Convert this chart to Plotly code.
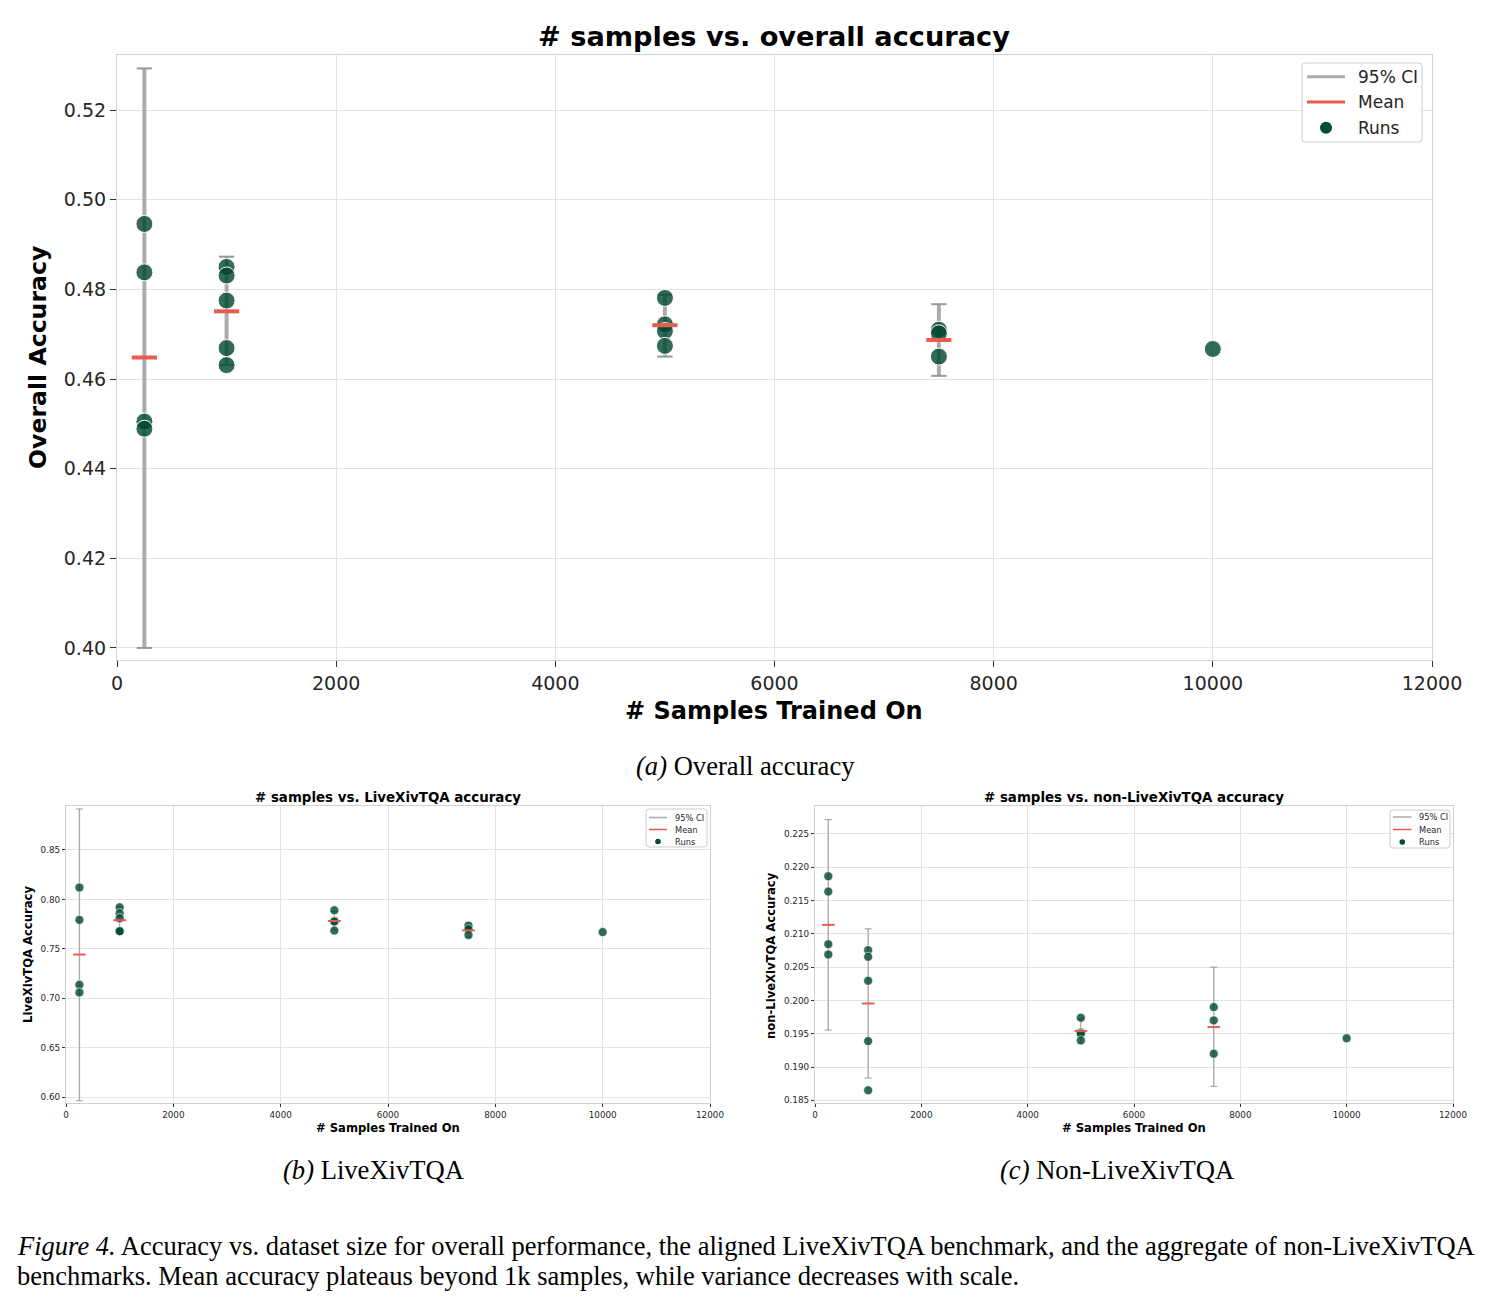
import plotly.graph_objects as go

# ---------------- data ----------------
# (a) overall accuracy
overall_runs_x = [250, 250, 250, 250,
                  1000, 1000, 1000, 1000, 1000,
                  5000, 5000, 5000, 5000,
                  7500, 7500, 7500,
                  10000]
overall_runs_y = [0.4946, 0.4838, 0.4505, 0.4489,
                  0.4850, 0.4831, 0.4775, 0.4669, 0.4631,
                  0.4781, 0.4722, 0.4707, 0.4674,
                  0.4710, 0.4702, 0.4650,
                  0.4667]
overall_mean_x = [250, 1000, 5000, 7500]
overall_mean = [0.4648, 0.4751, 0.4720, 0.4687]
overall_ci_lo = [0.4000, 0.4631, 0.4650, 0.4607]
overall_ci_hi = [0.5293, 0.4873, 0.4788, 0.4767]

# (b) LiveXivTQA accuracy
live_runs_x = [250, 250, 250, 250,
               1000, 1000, 1000, 1000, 1000,
               5000, 5000, 5000, 5000,
               7500, 7500, 7500,
               10000]
live_runs_y = [0.8120, 0.7793, 0.7137, 0.7060,
               0.7920, 0.7860, 0.7810, 0.7679, 0.7679,
               0.7890, 0.7785, 0.7775, 0.7685,
               0.7735, 0.7700, 0.7640,
               0.7670]
live_mean_x = [250, 1000, 5000, 7500]
live_mean = [0.7443, 0.7790, 0.7782, 0.7687]
live_ci_lo = [0.5966, 0.7660, 0.7690, 0.7620]
live_ci_hi = [0.8914, 0.7925, 0.7880, 0.7755]

# (c) non-LiveXivTQA accuracy
non_runs_x = [250, 250, 250, 250,
              1000, 1000, 1000, 1000, 1000,
              5000, 5000, 5000, 5000,
              7500, 7500, 7500,
              10000]
non_runs_y = [0.21865, 0.21635, 0.20845, 0.20690,
              0.20755, 0.20655, 0.20295, 0.19390, 0.18650,
              0.19740, 0.19520, 0.19500, 0.19400,
              0.19900, 0.19700, 0.19200,
              0.19432]
non_mean_x = [250, 1000, 5000, 7500]
non_mean = [0.21135, 0.19955, 0.19540, 0.19600]
non_ci_lo = [0.19555, 0.18835, 0.19350, 0.18710]
non_ci_hi = [0.22715, 0.21075, 0.19720, 0.20500]

x_ticks = [0, 2000, 4000, 6000, 8000, 10000, 12000]
legend_labels = ["95% CI", "Mean", "Runs"]

# ---------------- styling ----------------
W, H = 1492, 1306
FONT = "DejaVu Sans"
SERIF = "Liberation Serif"
RUN_COLOR = "rgba(0,70,50,0.8)"
RUN_SOLID = "#004d35"
MEAN_COLOR = "#e95b4c"
CI_COLOR = "#ababab"
CAP_COLOR = "#999999"
GRID = "#e2e2e2"
FRAME = "#d0d0d0"
TXT = "#262626"

fig = go.Figure()
shapes = []
ann = []


def px_x(p):
    return p / W


def px_y(p):
    return 1 - p / H


def add_panel(ax, rx, ry, mx, mm, lo, hi, s):
    xa, ya = ("x" if ax == 1 else f"x{ax}"), ("y" if ax == 1 else f"y{ax}")
    # CI line (no caps)
    fig.add_trace(go.Scatter(
        x=mx, y=mm, mode="markers", xaxis=xa, yaxis=ya,
        marker=dict(size=1, color="rgba(0,0,0,0)"),
        error_y=dict(type="data", symmetric=False,
                     array=[h - m for h, m in zip(hi, mm)],
                     arrayminus=[m - l for m, l in zip(mm, lo)],
                     color=CI_COLOR, thickness=s["ci_w"], width=0),
        showlegend=False, hoverinfo="skip"))
    # caps
    fig.add_trace(go.Scatter(
        x=mx + mx, y=lo + hi, mode="markers", xaxis=xa, yaxis=ya,
        marker=dict(symbol="line-ew", size=s["cap"],
                    line=dict(color=CAP_COLOR, width=s["cap_w"])),
        showlegend=False, hoverinfo="skip"))
    # runs
    fig.add_trace(go.Scatter(
        x=rx, y=ry, mode="markers", xaxis=xa, yaxis=ya,
        marker=dict(size=s["dot"], color=RUN_COLOR,
                    line=dict(color="white", width=s["edge"])),
        showlegend=False))
    # mean
    fig.add_trace(go.Scatter(
        x=mx, y=mm, mode="markers", xaxis=xa, yaxis=ya,
        marker=dict(symbol="line-ew", size=s["mean_len"],
                    line=dict(color=MEAN_COLOR, width=s["mean_w"])),
        showlegend=False))


def rounded_rect(x0, y0, x1, y1, r):
    X = lambda v: f"{px_x(v):.6f}"
    Y = lambda v: f"{px_y(v):.6f}"
    return (f"M {X(x0 + r)} {Y(y0)} L {X(x1 - r)} {Y(y0)} Q {X(x1)} {Y(y0)} {X(x1)} {Y(y0 + r)} "
            f"L {X(x1)} {Y(y1 - r)} Q {X(x1)} {Y(y1)} {X(x1 - r)} {Y(y1)} "
            f"L {X(x0 + r)} {Y(y1)} Q {X(x0)} {Y(y1)} {X(x0)} {Y(y1 - r)} "
            f"L {X(x0)} {Y(y0 + r)} Q {X(x0)} {Y(y0)} {X(x0 + r)} {Y(y0)} Z")


def add_legend(box, rows, line_x, dot_r, text_x, fs, lw):
    x0, y0, x1, y1 = box
    shapes.append(dict(type="path", xref="paper", yref="paper",
                       path=rounded_rect(x0, y0, x1, y1, 3),
                       fillcolor="rgba(255,255,255,0.85)",
                       line=dict(color="#cccccc", width=1)))
    colors = [CI_COLOR, MEAN_COLOR]
    for i, c in enumerate(colors):
        shapes.append(dict(type="line", xref="paper", yref="paper",
                           x0=px_x(line_x[0]), x1=px_x(line_x[1]),
                           y0=px_y(rows[i]), y1=px_y(rows[i]),
                           line=dict(color=c, width=lw)))
    cx = (line_x[0] + line_x[1]) / 2
    shapes.append(dict(type="circle", xref="paper", yref="paper",
                       x0=px_x(cx - dot_r), x1=px_x(cx + dot_r),
                       y0=px_y(rows[2] - dot_r), y1=px_y(rows[2] + dot_r),
                       fillcolor=RUN_SOLID, line=dict(width=0)))
    for lab, ry in zip(legend_labels, rows):
        ann.append(dict(x=px_x(text_x), y=px_y(ry), xref="paper", yref="paper",
                        text=lab, showarrow=False, xanchor="left", yanchor="middle",
                        font=dict(family=FONT, size=fs, color=TXT)))


big = dict(ci_w=4, cap=11, cap_w=2, dot=17, edge=1, mean_len=18, mean_w=4)
small = dict(ci_w=1.4, cap=5, cap_w=1, dot=9, edge=0.6, mean_len=9, mean_w=2)

add_panel(1, overall_runs_x, overall_runs_y, overall_mean_x, overall_mean,
          overall_ci_lo, overall_ci_hi, big)
add_panel(2, live_runs_x, live_runs_y, live_mean_x, live_mean,
          live_ci_lo, live_ci_hi, small)
add_panel(3, non_runs_x, non_runs_y, non_mean_x, non_mean,
          non_ci_lo, non_ci_hi, small)


def axis_common(tfs, tlen):
    return dict(showline=True, mirror=True, linecolor=FRAME, linewidth=1.2,
                showgrid=True, gridcolor=GRID, gridwidth=1, zeroline=False,
                automargin=False,
                ticks="outside", ticklen=tlen, tickwidth=1.3, tickcolor="#333333",
                tickfont=dict(family=FONT, size=tfs, color=TXT))


# panel geometry in pixels (left, right, top, bottom)
P1 = (117, 1432, 55, 660)
P2 = (66, 710, 806, 1103)
P3 = (815, 1453, 806, 1103)

layout_axes = {}
for i, (P, yr, ydt, yfmt, tfs, tlen) in enumerate([
        (P1, [0.3973, 0.5323], 0.02, ".2f", 19, 6),
        (P2, [0.5943, 0.8944], 0.05, ".2f", 8.8, 3),
        (P3, [0.1846, 0.2292], 0.005, ".3f", 8.8, 3)], start=1):
    xs = "xaxis" if i == 1 else f"xaxis{i}"
    ys = "yaxis" if i == 1 else f"yaxis{i}"
    layout_axes[xs] = dict(domain=[px_x(P[0]), px_x(P[1])], range=[0, 12000],
                           tickvals=x_ticks, tickformat="d",
                           anchor="y" if i == 1 else f"y{i}", **axis_common(tfs, tlen))
    layout_axes[ys] = dict(domain=[px_y(P[3]), px_y(P[2])], range=yr,
                           dtick=ydt, tick0=0, tickformat=yfmt,
                           anchor="x" if i == 1 else f"x{i}", **axis_common(tfs, tlen))

fig.update_layout(**layout_axes)

# legends (drawn manually to match the compact matplotlib boxes)
add_legend((1302, 63, 1422, 142), (76.7, 102, 127.7), (1307, 1345), 6, 1356, 17, 3)
add_legend((646, 809, 707, 847), (817.5, 829.5, 841.5), (649, 667), 2.8, 672.5, 8.3, 1.5)
add_legend((1390, 810, 1450, 848), (817, 829.5, 842), (1393, 1411.5), 2.8, 1416.5, 8.3, 1.5)


def text(xp, yp, s, size, family=FONT, angle=0, xanchor="center", color="black"):
    ann.append(dict(x=px_x(xp), y=px_y(yp), xref="paper", yref="paper", text=s,
                    showarrow=False, xanchor=xanchor, yanchor="middle", textangle=angle,
                    font=dict(family=family, size=size, color=color)))


# titles & axis labels
text(774, 36, "<b># samples vs. overall accuracy</b>", 27.2)
text(774, 711, "<b># Samples Trained On</b>", 24)
text(38, 358, "<b>Overall Accuracy</b>", 23.6, angle=-90)

text(388, 797, "<b># samples vs. LiveXivTQA accuracy</b>", 13.4)
text(388, 1128, "<b># Samples Trained On</b>", 11.6)
text(28, 955, "<b>LiveXivTQA Accuracy</b>", 11.6, angle=-90)

text(1134, 797, "<b># samples vs. non-LiveXivTQA accuracy</b>", 13.4)
text(1134, 1128, "<b># Samples Trained On</b>", 11.6)
text(771, 955, "<b>non-LiveXivTQA Accuracy</b>", 11.6, angle=-90)

# sub-captions and figure caption
text(745, 766, "<i>(a)</i> Overall accuracy", 26.6, family=SERIF)
text(374, 1170, "<i>(b)</i> LiveXivTQA", 26.6, family=SERIF)
text(1117, 1170, "<i>(c)</i> Non-LiveXivTQA", 26.6, family=SERIF)
text(15, 1246, "<i>Figure 4.</i> Accuracy vs. dataset size for overall performance, the aligned "
     "LiveXivTQA benchmark, and the aggregate of non-LiveXivTQA", 26.5, family=SERIF, xanchor="left")
text(15, 1276, "benchmarks. Mean accuracy plateaus beyond 1k samples, while variance decreases "
     "with scale.", 26.5, family=SERIF, xanchor="left")

fig.update_layout(
    width=W, height=H, autosize=False,
    margin=dict(l=0, r=0, t=0, b=0, pad=0, autoexpand=False),
    paper_bgcolor="white", plot_bgcolor="white",
    font=dict(family=FONT, color=TXT),
    showlegend=False,
    shapes=shapes, annotations=ann,
)

fig.write_html("out.html")
